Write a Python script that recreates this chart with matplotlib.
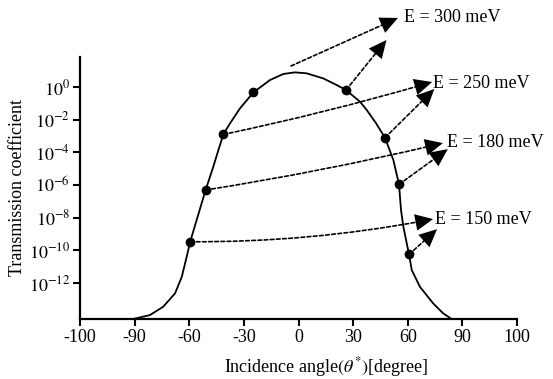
import numpy as np
import matplotlib.pyplot as plt

plt.rcParams['font.family'] = ['Liberation Serif', 'DejaVu Serif']
plt.rcParams['mathtext.fontset'] = 'stix'
plt.rcParams['axes.unicode_minus'] = False

# x axis: evenly spaced ticks whose labels are not evenly spaced
x_ticks = [-100, -90, -60, -30, 0, 30, 60, 90, 100]
tick_idx = np.arange(len(x_ticks))

# transmission curve (angle in degrees, log10 of transmission)
curve_angle = [-90.3, -81.6, -74.3, -67.8, -64.1, -61.4, -59.5, -51, -46.8, -44,
               -41.3, -37.6, -32.1, -24.8, -15.65, -8.35, -1.9, 4.5, 13.6, 21,
               26.1, 33.8, 37.5, 42.5, 47.5, 52.1, 55.2, 56.3, 57.6, 60.7, 62.2,
               66.7, 74, 79.5, 84.1]
curve_logT = [-14.2, -13.96, -13.45, -12.63, -11.62, -10.39, -9.47, -6.3, -4.88, -3.86,
              -2.9, -2.22, -1.3, -0.33, 0.43, 0.80, 0.90, 0.84, 0.53, 0.12,
              -0.18, -0.9, -1.41, -2.2, -3.1, -4.47, -5.96, -7.53, -8.55, -10.25, -11.2,
              -12.23, -13.25, -13.86, -14.2]

# marked points
dot_angle = [-59.5, -51, -41.3, -24.8, 26.1, 47.5, 55.2, 60.7]
dot_logT = [-9.47, -6.3, -2.9, -0.33, -0.18, -3.1, -5.96, -10.25]

# arrows: (tail angle, tail logT, tip angle, tip logT, curvature)
energies = ['E = 300 meV', 'E = 250 meV', 'E = 180 meV', 'E = 150 meV']
label_pos = [(57.9, 4.27), (74.0, 0.24), (81.5, -3.4), (75.0, -8.1)]
long_arrows = [(-4.1, 1.29, 54.6, 4.23, 0.0),
               (-41.3, -2.9, 73.4, 0.31, 0.02),
               (-51, -6.3, 79.3, -3.43, 0.02),
               (-59.5, -9.47, 73.9, -8.08, 0.05)]
short_arrows = [(26.1, -0.18, 48.3, 2.88, 0.0),
                (47.5, -3.1, 74.6, -0.12, 0.0),
                (55.2, -5.96, 82.0, -3.8, 0.0),
                (60.7, -10.25, 76.1, -8.7, 0.0)]


def fwd(x):
    return np.interp(x, x_ticks, tick_idx)


def inv(p):
    return np.interp(p, tick_idx, x_ticks)


fig = plt.figure(figsize=(5.53, 3.79), dpi=100)
ax = fig.add_axes([80 / 553, 1 - 319 / 379, 437 / 553, 262 / 379])
ax.set_xscale('function', functions=(fwd, inv))
ax.set_yscale('log')

ax.plot(curve_angle, 10.0 ** np.array(curve_logT), color='black', lw=1.3)
ax.plot(dot_angle, 10.0 ** np.array(dot_logT), 'o', color='black', ms=6)

head = '-|>,head_length=0.85,head_width=0.4'
for (x0, y0, x1, y1, rad) in long_arrows + short_arrows:
    cs = 'arc3,rad=%s' % rad
    # dashed shaft
    ax.annotate('', xy=(x1, 10.0 ** y1), xytext=(x0, 10.0 ** y0),
                annotation_clip=False,
                arrowprops=dict(arrowstyle='-', color='black', lw=1.2,
                                linestyle=(0, (2.2, 1.5)), shrinkA=0, shrinkB=6,
                                connectionstyle=cs))
    # solid filled head
    ax.annotate('', xy=(x1, 10.0 ** y1), xytext=(x0, 10.0 ** y0),
                annotation_clip=False,
                arrowprops=dict(arrowstyle=head, mutation_scale=15, color='black',
                                lw=0, shrinkA=0, shrinkB=0, connectionstyle=cs))

for txt, (x, y) in zip(energies, label_pos):
    ax.text(x, 10.0 ** y, txt, fontsize=13, ha='left', va='center', clip_on=False)

ax.set_xlim(-100, 100)
ax.set_ylim(10 ** -14.2, 10 ** 1.84)
ax.set_xticks(x_ticks)
ax.set_xticklabels([str(t) for t in x_ticks])
ax.set_yticks([10.0 ** k for k in range(0, -13, -2)])
ax.set_yticklabels([r'$10^{%d}$' % k for k in range(0, -13, -2)])
ax.yaxis.set_minor_locator(plt.NullLocator())
ax.tick_params(axis='both', labelsize=13, length=5, width=1.5, direction='out', pad=2)

for s in ['top', 'right']:
    ax.spines[s].set_visible(False)
for s in ['left', 'bottom']:
    ax.spines[s].set_linewidth(1.6)

ax.set_ylabel('Transmission coefficient', fontsize=13)
ax.yaxis.set_label_coords(-0.123, 0.5)
fig.text(326 / 553, 1 - 367 / 379, r'Incidence angle$(\theta^{*})$[degree]',
         fontsize=13, ha='center', va='center')

fig.savefig('out.png', dpi=100)
